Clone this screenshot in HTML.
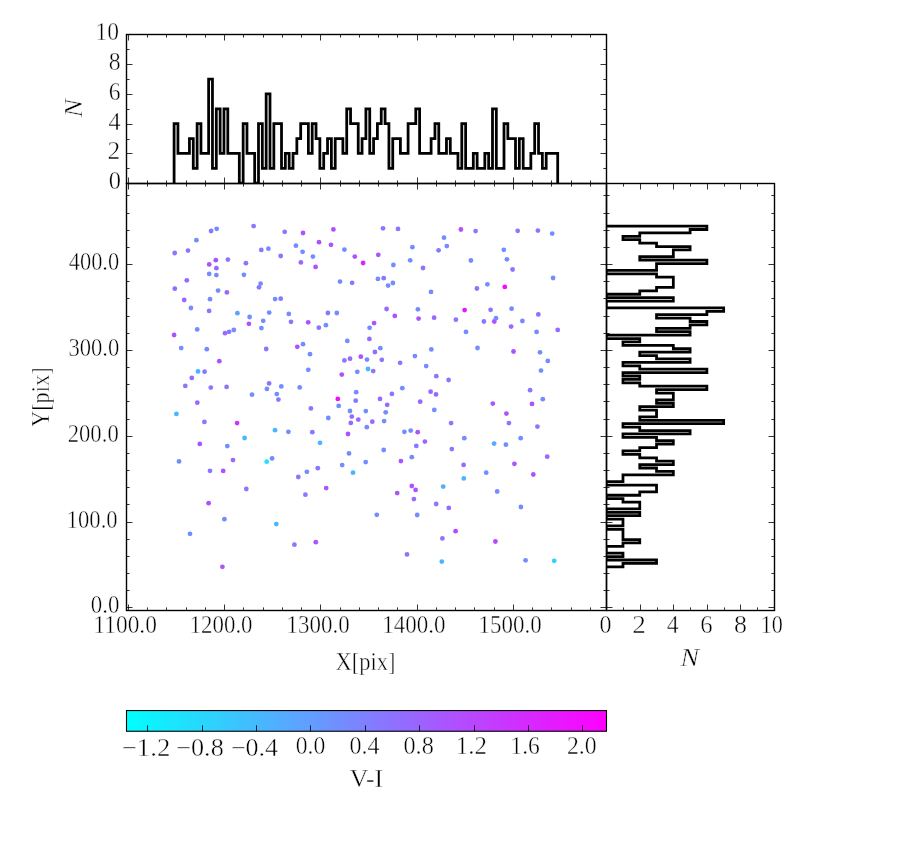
<!DOCTYPE html><html><head><meta charset="utf-8"><title>plot</title><style>html,body{margin:0;padding:0;background:#fff;}svg{display:block;}text{font-family:"Liberation Serif", "DejaVu Serif", serif;fill:#000;stroke:#fff;stroke-width:0.45px;}</style></head><body>
<svg width="900" height="850" viewBox="0 0 900 850">
<rect x="0" y="0" width="900" height="850" fill="#fff"/>
<defs><linearGradient id="cg" x1="0" y1="0" x2="1" y2="0"><stop offset="0" stop-color="#00ffff"/><stop offset="1" stop-color="#ff00ff"/></linearGradient></defs>
<g>
<circle cx="216.7" cy="228.8" r="2.4" fill="#738cff"/>
<circle cx="211.1" cy="231.0" r="2.4" fill="#8778ff"/>
<circle cx="253.6" cy="226.1" r="2.4" fill="#8778ff"/>
<circle cx="196.4" cy="240.2" r="2.4" fill="#738cff"/>
<circle cx="188.0" cy="250.6" r="2.4" fill="#8778ff"/>
<circle cx="174.7" cy="253.0" r="2.4" fill="#8778ff"/>
<circle cx="261.3" cy="249.9" r="2.4" fill="#8778ff"/>
<circle cx="215.8" cy="260.2" r="2.4" fill="#ad52ff"/>
<circle cx="227.9" cy="259.6" r="2.4" fill="#8778ff"/>
<circle cx="209.2" cy="264.4" r="2.4" fill="#ad52ff"/>
<circle cx="245.9" cy="263.2" r="2.4" fill="#8778ff"/>
<circle cx="216.4" cy="268.2" r="2.4" fill="#9669ff"/>
<circle cx="209.2" cy="273.9" r="2.4" fill="#738cff"/>
<circle cx="216.4" cy="275.1" r="2.4" fill="#738cff"/>
<circle cx="243.9" cy="274.8" r="2.4" fill="#738cff"/>
<circle cx="186.8" cy="280.3" r="2.4" fill="#9669ff"/>
<circle cx="260.6" cy="283.6" r="2.4" fill="#738cff"/>
<circle cx="259.0" cy="287.3" r="2.4" fill="#8778ff"/>
<circle cx="174.8" cy="288.7" r="2.4" fill="#9669ff"/>
<circle cx="218.1" cy="290.6" r="2.4" fill="#738cff"/>
<circle cx="226.9" cy="292.4" r="2.4" fill="#9669ff"/>
<circle cx="184.2" cy="300.0" r="2.4" fill="#9669ff"/>
<circle cx="210.0" cy="299.2" r="2.4" fill="#738cff"/>
<circle cx="190.9" cy="308.0" r="2.4" fill="#738cff"/>
<circle cx="284.7" cy="231.8" r="2.4" fill="#8778ff"/>
<circle cx="303.0" cy="233.0" r="2.4" fill="#ad52ff"/>
<circle cx="333.4" cy="229.4" r="2.4" fill="#ad52ff"/>
<circle cx="319.0" cy="242.2" r="2.4" fill="#ad52ff"/>
<circle cx="331.0" cy="244.8" r="2.4" fill="#ad52ff"/>
<circle cx="295.9" cy="245.7" r="2.4" fill="#738cff"/>
<circle cx="268.4" cy="248.7" r="2.4" fill="#738cff"/>
<circle cx="302.6" cy="251.8" r="2.4" fill="#738cff"/>
<circle cx="344.4" cy="249.6" r="2.4" fill="#738cff"/>
<circle cx="280.7" cy="256.0" r="2.4" fill="#8778ff"/>
<circle cx="312.9" cy="256.6" r="2.4" fill="#738cff"/>
<circle cx="354.8" cy="256.6" r="2.4" fill="#ad52ff"/>
<circle cx="300.9" cy="262.4" r="2.4" fill="#9669ff"/>
<circle cx="315.6" cy="266.9" r="2.4" fill="#ad52ff"/>
<circle cx="340.0" cy="281.6" r="2.4" fill="#738cff"/>
<circle cx="352.1" cy="282.8" r="2.4" fill="#8778ff"/>
<circle cx="275.1" cy="299.1" r="2.4" fill="#738cff"/>
<circle cx="280.7" cy="298.7" r="2.4" fill="#8778ff"/>
<circle cx="383.0" cy="228.3" r="2.4" fill="#8778ff"/>
<circle cx="398.0" cy="228.9" r="2.4" fill="#8778ff"/>
<circle cx="444.0" cy="237.7" r="2.4" fill="#738cff"/>
<circle cx="412.4" cy="247.2" r="2.4" fill="#738cff"/>
<circle cx="446.8" cy="246.1" r="2.4" fill="#738cff"/>
<circle cx="438.6" cy="250.3" r="2.4" fill="#8778ff"/>
<circle cx="378.3" cy="254.8" r="2.4" fill="#ad52ff"/>
<circle cx="363.1" cy="263.0" r="2.4" fill="#d926ff"/>
<circle cx="393.4" cy="265.0" r="2.4" fill="#738cff"/>
<circle cx="410.2" cy="260.3" r="2.4" fill="#738cff"/>
<circle cx="423.0" cy="268.0" r="2.4" fill="#8778ff"/>
<circle cx="377.9" cy="278.9" r="2.4" fill="#738cff"/>
<circle cx="383.7" cy="278.2" r="2.4" fill="#8778ff"/>
<circle cx="392.9" cy="283.0" r="2.4" fill="#738cff"/>
<circle cx="388.1" cy="285.6" r="2.4" fill="#738cff"/>
<circle cx="431.0" cy="291.9" r="2.4" fill="#738cff"/>
<circle cx="386.6" cy="309.0" r="2.4" fill="#9669ff"/>
<circle cx="417.9" cy="309.3" r="2.4" fill="#738cff"/>
<circle cx="460.9" cy="229.5" r="2.4" fill="#ad52ff"/>
<circle cx="475.6" cy="231.1" r="2.4" fill="#8778ff"/>
<circle cx="517.7" cy="230.8" r="2.4" fill="#8778ff"/>
<circle cx="537.9" cy="230.6" r="2.4" fill="#8778ff"/>
<circle cx="552.2" cy="233.6" r="2.4" fill="#738cff"/>
<circle cx="503.8" cy="249.8" r="2.4" fill="#738cff"/>
<circle cx="470.9" cy="260.5" r="2.4" fill="#738cff"/>
<circle cx="506.9" cy="259.3" r="2.4" fill="#738cff"/>
<circle cx="512.6" cy="269.5" r="2.4" fill="#8778ff"/>
<circle cx="553.1" cy="278.0" r="2.4" fill="#738cff"/>
<circle cx="487.4" cy="284.3" r="2.4" fill="#738cff"/>
<circle cx="476.9" cy="288.5" r="2.4" fill="#8778ff"/>
<circle cx="504.8" cy="286.9" r="2.4" fill="#f20dff"/>
<circle cx="464.6" cy="310.1" r="2.4" fill="#eb14ff"/>
<circle cx="490.6" cy="309.8" r="2.4" fill="#8778ff"/>
<circle cx="511.6" cy="308.7" r="2.4" fill="#738cff"/>
<circle cx="209.1" cy="310.9" r="2.4" fill="#8778ff"/>
<circle cx="237.4" cy="313.2" r="2.4" fill="#5ca3ff"/>
<circle cx="249.6" cy="317.0" r="2.4" fill="#738cff"/>
<circle cx="263.2" cy="320.8" r="2.4" fill="#738cff"/>
<circle cx="248.9" cy="323.8" r="2.4" fill="#ad52ff"/>
<circle cx="261.4" cy="328.1" r="2.4" fill="#738cff"/>
<circle cx="197.2" cy="329.4" r="2.4" fill="#738cff"/>
<circle cx="174.1" cy="335.0" r="2.4" fill="#ad52ff"/>
<circle cx="225.0" cy="333.2" r="2.4" fill="#9669ff"/>
<circle cx="229.1" cy="331.8" r="2.4" fill="#8778ff"/>
<circle cx="233.8" cy="330.0" r="2.4" fill="#738cff"/>
<circle cx="181.2" cy="348.1" r="2.4" fill="#738cff"/>
<circle cx="206.8" cy="349.2" r="2.4" fill="#738cff"/>
<circle cx="219.3" cy="361.2" r="2.4" fill="#ad52ff"/>
<circle cx="198.0" cy="371.4" r="2.4" fill="#4ab5ff"/>
<circle cx="204.6" cy="371.7" r="2.4" fill="#8778ff"/>
<circle cx="191.8" cy="377.9" r="2.4" fill="#9669ff"/>
<circle cx="185.3" cy="385.9" r="2.4" fill="#8778ff"/>
<circle cx="210.8" cy="387.6" r="2.4" fill="#8778ff"/>
<circle cx="226.6" cy="386.9" r="2.4" fill="#8778ff"/>
<circle cx="252.0" cy="394.7" r="2.4" fill="#738cff"/>
<circle cx="269.2" cy="312.6" r="2.4" fill="#738cff"/>
<circle cx="288.8" cy="313.9" r="2.4" fill="#738cff"/>
<circle cx="327.9" cy="313.0" r="2.4" fill="#8778ff"/>
<circle cx="336.8" cy="313.0" r="2.4" fill="#738cff"/>
<circle cx="291.0" cy="321.8" r="2.4" fill="#8778ff"/>
<circle cx="308.2" cy="322.3" r="2.4" fill="#ad52ff"/>
<circle cx="318.8" cy="327.7" r="2.4" fill="#8778ff"/>
<circle cx="325.9" cy="325.2" r="2.4" fill="#738cff"/>
<circle cx="347.3" cy="340.9" r="2.4" fill="#738cff"/>
<circle cx="303.0" cy="344.2" r="2.4" fill="#738cff"/>
<circle cx="297.3" cy="346.8" r="2.4" fill="#ad52ff"/>
<circle cx="266.2" cy="349.0" r="2.4" fill="#8778ff"/>
<circle cx="310.0" cy="354.2" r="2.4" fill="#738cff"/>
<circle cx="344.4" cy="360.4" r="2.4" fill="#8778ff"/>
<circle cx="350.0" cy="358.7" r="2.4" fill="#9669ff"/>
<circle cx="360.8" cy="356.7" r="2.4" fill="#ad52ff"/>
<circle cx="308.3" cy="369.8" r="2.4" fill="#738cff"/>
<circle cx="341.8" cy="374.6" r="2.4" fill="#ad52ff"/>
<circle cx="357.3" cy="371.8" r="2.4" fill="#738cff"/>
<circle cx="269.1" cy="383.4" r="2.4" fill="#8778ff"/>
<circle cx="266.9" cy="388.9" r="2.4" fill="#738cff"/>
<circle cx="281.3" cy="386.4" r="2.4" fill="#738cff"/>
<circle cx="299.7" cy="387.4" r="2.4" fill="#738cff"/>
<circle cx="276.8" cy="394.1" r="2.4" fill="#738cff"/>
<circle cx="356.2" cy="392.2" r="2.4" fill="#738cff"/>
<circle cx="394.8" cy="315.9" r="2.4" fill="#ad52ff"/>
<circle cx="418.6" cy="318.6" r="2.4" fill="#ad52ff"/>
<circle cx="434.1" cy="317.7" r="2.4" fill="#9669ff"/>
<circle cx="455.9" cy="319.7" r="2.4" fill="#8778ff"/>
<circle cx="374.1" cy="323.1" r="2.4" fill="#ad52ff"/>
<circle cx="369.6" cy="327.8" r="2.4" fill="#738cff"/>
<circle cx="369.4" cy="338.9" r="2.4" fill="#9669ff"/>
<circle cx="380.3" cy="348.2" r="2.4" fill="#738cff"/>
<circle cx="374.9" cy="352.0" r="2.4" fill="#9669ff"/>
<circle cx="367.0" cy="359.6" r="2.4" fill="#738cff"/>
<circle cx="381.8" cy="359.8" r="2.4" fill="#8778ff"/>
<circle cx="400.1" cy="362.8" r="2.4" fill="#8778ff"/>
<circle cx="414.9" cy="356.1" r="2.4" fill="#738cff"/>
<circle cx="431.3" cy="349.4" r="2.4" fill="#738cff"/>
<circle cx="426.2" cy="366.1" r="2.4" fill="#738cff"/>
<circle cx="368.0" cy="369.0" r="2.4" fill="#4ab5ff"/>
<circle cx="373.2" cy="371.1" r="2.4" fill="#8778ff"/>
<circle cx="436.3" cy="376.2" r="2.4" fill="#8778ff"/>
<circle cx="448.6" cy="380.0" r="2.4" fill="#8778ff"/>
<circle cx="402.3" cy="388.2" r="2.4" fill="#738cff"/>
<circle cx="391.9" cy="393.9" r="2.4" fill="#8778ff"/>
<circle cx="430.6" cy="391.7" r="2.4" fill="#9669ff"/>
<circle cx="436.0" cy="394.4" r="2.4" fill="#9669ff"/>
<circle cx="538.3" cy="314.4" r="2.4" fill="#9669ff"/>
<circle cx="483.9" cy="321.5" r="2.4" fill="#8778ff"/>
<circle cx="494.3" cy="321.5" r="2.4" fill="#ad52ff"/>
<circle cx="496.0" cy="318.2" r="2.4" fill="#738cff"/>
<circle cx="511.1" cy="326.6" r="2.4" fill="#9669ff"/>
<circle cx="522.4" cy="321.0" r="2.4" fill="#738cff"/>
<circle cx="466.0" cy="331.9" r="2.4" fill="#738cff"/>
<circle cx="536.6" cy="331.9" r="2.4" fill="#738cff"/>
<circle cx="557.7" cy="329.9" r="2.4" fill="#9669ff"/>
<circle cx="477.5" cy="348.0" r="2.4" fill="#738cff"/>
<circle cx="513.5" cy="351.5" r="2.4" fill="#ad52ff"/>
<circle cx="540.0" cy="352.3" r="2.4" fill="#738cff"/>
<circle cx="547.8" cy="360.9" r="2.4" fill="#738cff"/>
<circle cx="541.0" cy="370.6" r="2.4" fill="#738cff"/>
<circle cx="530.1" cy="390.2" r="2.4" fill="#8778ff"/>
<circle cx="197.3" cy="402.7" r="2.4" fill="#9669ff"/>
<circle cx="176.4" cy="413.9" r="2.4" fill="#4ab5ff"/>
<circle cx="204.4" cy="421.9" r="2.4" fill="#8778ff"/>
<circle cx="237.1" cy="423.1" r="2.4" fill="#cc33ff"/>
<circle cx="244.6" cy="438.0" r="2.4" fill="#4ab5ff"/>
<circle cx="199.8" cy="443.9" r="2.4" fill="#ad52ff"/>
<circle cx="227.3" cy="446.1" r="2.4" fill="#738cff"/>
<circle cx="179.0" cy="461.4" r="2.4" fill="#738cff"/>
<circle cx="233.0" cy="460.1" r="2.4" fill="#9669ff"/>
<circle cx="210.0" cy="470.8" r="2.4" fill="#8778ff"/>
<circle cx="223.2" cy="470.9" r="2.4" fill="#ad52ff"/>
<circle cx="278.4" cy="399.6" r="2.4" fill="#8778ff"/>
<circle cx="337.8" cy="398.9" r="2.4" fill="#f20dff"/>
<circle cx="355.7" cy="400.7" r="2.4" fill="#8778ff"/>
<circle cx="310.9" cy="408.4" r="2.4" fill="#8778ff"/>
<circle cx="338.7" cy="405.9" r="2.4" fill="#738cff"/>
<circle cx="350.0" cy="411.0" r="2.4" fill="#738cff"/>
<circle cx="351.8" cy="416.6" r="2.4" fill="#9669ff"/>
<circle cx="358.3" cy="419.6" r="2.4" fill="#9669ff"/>
<circle cx="328.3" cy="418.0" r="2.4" fill="#738cff"/>
<circle cx="350.8" cy="422.9" r="2.4" fill="#9669ff"/>
<circle cx="275.0" cy="430.2" r="2.4" fill="#4ab5ff"/>
<circle cx="288.4" cy="431.8" r="2.4" fill="#738cff"/>
<circle cx="312.3" cy="432.2" r="2.4" fill="#8778ff"/>
<circle cx="348.0" cy="434.0" r="2.4" fill="#ad52ff"/>
<circle cx="320.0" cy="442.8" r="2.4" fill="#4ab5ff"/>
<circle cx="349.0" cy="453.4" r="2.4" fill="#738cff"/>
<circle cx="272.1" cy="458.4" r="2.4" fill="#738cff"/>
<circle cx="266.7" cy="461.7" r="2.4" fill="#1ae6ff"/>
<circle cx="342.2" cy="465.1" r="2.4" fill="#738cff"/>
<circle cx="353.0" cy="472.7" r="2.4" fill="#4ab5ff"/>
<circle cx="317.8" cy="468.2" r="2.4" fill="#8778ff"/>
<circle cx="306.9" cy="471.8" r="2.4" fill="#738cff"/>
<circle cx="298.3" cy="477.0" r="2.4" fill="#8778ff"/>
<circle cx="380.0" cy="398.9" r="2.4" fill="#9669ff"/>
<circle cx="387.2" cy="404.8" r="2.4" fill="#9669ff"/>
<circle cx="420.2" cy="401.7" r="2.4" fill="#9669ff"/>
<circle cx="365.8" cy="411.1" r="2.4" fill="#738cff"/>
<circle cx="385.7" cy="412.3" r="2.4" fill="#738cff"/>
<circle cx="434.3" cy="409.9" r="2.4" fill="#738cff"/>
<circle cx="372.3" cy="421.7" r="2.4" fill="#9669ff"/>
<circle cx="384.1" cy="421.1" r="2.4" fill="#738cff"/>
<circle cx="366.8" cy="427.2" r="2.4" fill="#738cff"/>
<circle cx="451.1" cy="423.1" r="2.4" fill="#8778ff"/>
<circle cx="404.4" cy="431.8" r="2.4" fill="#738cff"/>
<circle cx="410.7" cy="430.6" r="2.4" fill="#738cff"/>
<circle cx="417.7" cy="432.2" r="2.4" fill="#ad52ff"/>
<circle cx="424.9" cy="441.6" r="2.4" fill="#9669ff"/>
<circle cx="416.3" cy="445.9" r="2.4" fill="#8778ff"/>
<circle cx="383.7" cy="450.0" r="2.4" fill="#738cff"/>
<circle cx="451.8" cy="449.1" r="2.4" fill="#8778ff"/>
<circle cx="411.8" cy="457.2" r="2.4" fill="#738cff"/>
<circle cx="400.9" cy="461.1" r="2.4" fill="#ad52ff"/>
<circle cx="365.7" cy="462.1" r="2.4" fill="#738cff"/>
<circle cx="542.8" cy="399.2" r="2.4" fill="#738cff"/>
<circle cx="492.8" cy="403.6" r="2.4" fill="#ad52ff"/>
<circle cx="532.0" cy="403.9" r="2.4" fill="#ad52ff"/>
<circle cx="506.4" cy="413.6" r="2.4" fill="#ad52ff"/>
<circle cx="508.9" cy="423.1" r="2.4" fill="#8778ff"/>
<circle cx="537.4" cy="426.6" r="2.4" fill="#8778ff"/>
<circle cx="464.3" cy="438.2" r="2.4" fill="#738cff"/>
<circle cx="520.7" cy="438.2" r="2.4" fill="#738cff"/>
<circle cx="494.1" cy="443.6" r="2.4" fill="#54abff"/>
<circle cx="505.9" cy="444.7" r="2.4" fill="#738cff"/>
<circle cx="547.2" cy="456.7" r="2.4" fill="#9669ff"/>
<circle cx="463.6" cy="464.9" r="2.4" fill="#9669ff"/>
<circle cx="514.4" cy="463.8" r="2.4" fill="#ad52ff"/>
<circle cx="486.2" cy="472.7" r="2.4" fill="#738cff"/>
<circle cx="533.3" cy="474.5" r="2.4" fill="#ad52ff"/>
<circle cx="463.8" cy="478.4" r="2.4" fill="#4ab5ff"/>
<circle cx="246.3" cy="489.0" r="2.4" fill="#8778ff"/>
<circle cx="208.6" cy="503.2" r="2.4" fill="#ad52ff"/>
<circle cx="224.4" cy="519.2" r="2.4" fill="#738cff"/>
<circle cx="190.0" cy="533.8" r="2.4" fill="#738cff"/>
<circle cx="222.4" cy="566.8" r="2.4" fill="#ad52ff"/>
<circle cx="326.2" cy="488.1" r="2.4" fill="#ad52ff"/>
<circle cx="305.4" cy="494.7" r="2.4" fill="#8778ff"/>
<circle cx="276.3" cy="524.1" r="2.4" fill="#4ab5ff"/>
<circle cx="294.4" cy="544.7" r="2.4" fill="#8778ff"/>
<circle cx="315.8" cy="542.2" r="2.4" fill="#ad52ff"/>
<circle cx="411.8" cy="486.0" r="2.4" fill="#ad52ff"/>
<circle cx="415.6" cy="489.9" r="2.4" fill="#ad52ff"/>
<circle cx="397.2" cy="493.1" r="2.4" fill="#ad52ff"/>
<circle cx="443.2" cy="486.6" r="2.4" fill="#54abff"/>
<circle cx="413.9" cy="499.1" r="2.4" fill="#9669ff"/>
<circle cx="436.2" cy="504.0" r="2.4" fill="#8778ff"/>
<circle cx="448.8" cy="507.9" r="2.4" fill="#9669ff"/>
<circle cx="376.8" cy="514.8" r="2.4" fill="#738cff"/>
<circle cx="417.2" cy="515.0" r="2.4" fill="#738cff"/>
<circle cx="455.6" cy="531.2" r="2.4" fill="#b847ff"/>
<circle cx="442.4" cy="538.4" r="2.4" fill="#8778ff"/>
<circle cx="407.0" cy="554.4" r="2.4" fill="#8778ff"/>
<circle cx="441.8" cy="561.6" r="2.4" fill="#4ab5ff"/>
<circle cx="497.2" cy="491.5" r="2.4" fill="#738cff"/>
<circle cx="520.9" cy="507.0" r="2.4" fill="#738cff"/>
<circle cx="495.4" cy="541.5" r="2.4" fill="#b847ff"/>
<circle cx="525.6" cy="560.3" r="2.4" fill="#738cff"/>
<circle cx="554.2" cy="560.8" r="2.4" fill="#2ed1ff"/>
</g>
<clipPath id="ct"><rect x="126.5" y="34.5" width="480.0" height="149.0"/></clipPath>
<clipPath id="cr"><rect x="606.5" y="183.5" width="168.0" height="427.0"/></clipPath>
<path d="M174.10,183.20 L174.10,123.68 L177.94,123.68 L177.94,153.44 L181.77,153.44 L181.77,153.44 L185.61,153.44 L185.61,153.44 L189.44,153.44 L189.44,138.56 L193.28,138.56 L193.28,168.32 L197.12,168.32 L197.12,123.68 L200.95,123.68 L200.95,153.44 L204.79,153.44 L204.79,153.44 L208.62,153.44 L208.62,79.04 L212.46,79.04 L212.46,168.32 L216.30,168.32 L216.30,108.80 L220.13,108.80 L220.13,153.44 L223.97,153.44 L223.97,108.80 L227.80,108.80 L227.80,153.44 L231.64,153.44 L231.64,153.44 L235.48,153.44 L235.48,153.44 L239.31,153.44 L239.31,183.20 L243.15,183.20 L243.15,123.68 L246.98,123.68 L246.98,153.44 L250.82,153.44 L250.82,153.44 L254.66,153.44 L254.66,183.20 L258.49,183.20 L258.49,123.68 L262.33,123.68 L262.33,168.32 L266.16,168.32 L266.16,93.92 L270.00,93.92 L270.00,168.32 L273.84,168.32 L273.84,123.68 L277.67,123.68 L277.67,123.68 L281.51,123.68 L281.51,168.32 L285.34,168.32 L285.34,153.44 L289.18,153.44 L289.18,168.32 L293.02,168.32 L293.02,153.44 L296.85,153.44 L296.85,138.56 L300.69,138.56 L300.69,123.68 L304.52,123.68 L304.52,123.68 L308.36,123.68 L308.36,153.44 L312.20,153.44 L312.20,123.68 L316.03,123.68 L316.03,138.56 L319.87,138.56 L319.87,168.32 L323.70,168.32 L323.70,153.44 L327.54,153.44 L327.54,138.56 L331.38,138.56 L331.38,168.32 L335.21,168.32 L335.21,138.56 L339.05,138.56 L339.05,138.56 L342.88,138.56 L342.88,153.44 L346.72,153.44 L346.72,108.80 L350.56,108.80 L350.56,123.68 L354.39,123.68 L354.39,123.68 L358.23,123.68 L358.23,153.44 L362.06,153.44 L362.06,138.56 L365.90,138.56 L365.90,108.80 L369.74,108.80 L369.74,153.44 L373.57,153.44 L373.57,138.56 L377.41,138.56 L377.41,123.68 L381.24,123.68 L381.24,108.80 L385.08,108.80 L385.08,123.68 L388.92,123.68 L388.92,168.32 L392.75,168.32 L392.75,138.56 L396.59,138.56 L396.59,138.56 L400.42,138.56 L400.42,153.44 L404.26,153.44 L404.26,153.44 L408.10,153.44 L408.10,123.68 L411.93,123.68 L411.93,123.68 L415.77,123.68 L415.77,108.80 L419.60,108.80 L419.60,153.44 L423.44,153.44 L423.44,153.44 L427.28,153.44 L427.28,153.44 L431.11,153.44 L431.11,138.56 L434.95,138.56 L434.95,123.68 L438.78,123.68 L438.78,153.44 L442.62,153.44 L442.62,153.44 L446.46,153.44 L446.46,138.56 L450.29,138.56 L450.29,153.44 L454.13,153.44 L454.13,153.44 L457.96,153.44 L457.96,168.32 L461.80,168.32 L461.80,123.68 L465.64,123.68 L465.64,168.32 L469.47,168.32 L469.47,168.32 L473.31,168.32 L473.31,153.44 L477.14,153.44 L477.14,168.32 L480.98,168.32 L480.98,168.32 L484.82,168.32 L484.82,153.44 L488.65,153.44 L488.65,168.32 L492.49,168.32 L492.49,108.80 L496.32,108.80 L496.32,168.32 L500.16,168.32 L500.16,168.32 L504.00,168.32 L504.00,123.68 L507.83,123.68 L507.83,138.56 L511.67,138.56 L511.67,138.56 L515.50,138.56 L515.50,168.32 L519.34,168.32 L519.34,138.56 L523.18,138.56 L523.18,168.32 L527.01,168.32 L527.01,168.32 L530.85,168.32 L530.85,153.44 L534.68,153.44 L534.68,123.68 L538.52,123.68 L538.52,153.44 L542.36,153.44 L542.36,168.32 L546.19,168.32 L546.19,153.44 L550.03,153.44 L550.03,153.44 L553.86,153.44 L553.86,153.44 L557.70,153.44 L557.70,183.20" fill="none" stroke="#000" stroke-width="2.78" stroke-linejoin="miter" clip-path="url(#ct)"/>
<path d="M606.20,226.10 L706.88,226.10 L706.88,229.51 L690.10,229.51 L690.10,232.91 L639.76,232.91 L639.76,236.32 L622.98,236.32 L622.98,239.73 L639.76,239.73 L639.76,243.13 L656.54,243.13 L656.54,246.54 L690.10,246.54 L690.10,249.95 L673.32,249.95 L673.32,253.36 L673.32,253.36 L673.32,256.76 L639.76,256.76 L639.76,260.17 L706.88,260.17 L706.88,263.58 L656.54,263.58 L656.54,266.98 L656.54,266.98 L656.54,270.39 L606.20,270.39 L606.20,273.80 L656.54,273.80 L656.54,277.20 L673.32,277.20 L673.32,280.61 L673.32,280.61 L673.32,284.02 L673.32,284.02 L673.32,287.43 L656.54,287.43 L656.54,290.83 L639.76,290.83 L639.76,294.24 L606.20,294.24 L606.20,297.65 L673.32,297.65 L673.32,301.05 L606.20,301.05 L606.20,304.46 L606.20,304.46 L606.20,307.87 L723.66,307.87 L723.66,311.27 L706.88,311.27 L706.88,314.68 L656.54,314.68 L656.54,318.09 L690.10,318.09 L690.10,321.50 L706.88,321.50 L706.88,324.90 L690.10,324.90 L690.10,328.31 L656.54,328.31 L656.54,331.72 L690.10,331.72 L690.10,335.12 L606.20,335.12 L606.20,338.53 L639.76,338.53 L639.76,341.94 L622.98,341.94 L622.98,345.34 L673.32,345.34 L673.32,348.75 L690.10,348.75 L690.10,352.16 L639.76,352.16 L639.76,355.57 L656.54,355.57 L656.54,358.97 L690.10,358.97 L690.10,362.38 L622.98,362.38 L622.98,365.79 L639.76,365.79 L639.76,369.19 L706.88,369.19 L706.88,372.60 L622.98,372.60 L622.98,376.01 L639.76,376.01 L639.76,379.41 L622.98,379.41 L622.98,382.82 L639.76,382.82 L639.76,386.23 L706.88,386.23 L706.88,389.64 L656.54,389.64 L656.54,393.04 L673.32,393.04 L673.32,396.45 L673.32,396.45 L673.32,399.86 L656.54,399.86 L656.54,403.26 L673.32,403.26 L673.32,406.67 L639.76,406.67 L639.76,410.08 L656.54,410.08 L656.54,413.48 L656.54,413.48 L656.54,416.89 L639.76,416.89 L639.76,420.30 L723.66,420.30 L723.66,423.71 L622.98,423.71 L622.98,427.11 L639.76,427.11 L639.76,430.52 L690.10,430.52 L690.10,433.93 L622.98,433.93 L622.98,437.33 L656.54,437.33 L656.54,440.74 L673.32,440.74 L673.32,444.15 L656.54,444.15 L656.54,447.55 L639.76,447.55 L639.76,450.96 L622.98,450.96 L622.98,454.37 L639.76,454.37 L639.76,457.78 L656.54,457.78 L656.54,461.18 L673.32,461.18 L673.32,464.59 L639.76,464.59 L639.76,468.00 L656.54,468.00 L656.54,471.40 L673.32,471.40 L673.32,474.81 L622.98,474.81 L622.98,478.22 L622.98,478.22 L622.98,481.62 L606.20,481.62 L606.20,485.03 L656.54,485.03 L656.54,488.44 L656.54,488.44 L656.54,491.85 L639.76,491.85 L639.76,495.25 L606.20,495.25 L606.20,498.66 L622.98,498.66 L622.98,502.07 L639.76,502.07 L639.76,505.47 L639.76,505.47 L639.76,508.88 L606.20,508.88 L606.20,512.29 L639.76,512.29 L639.76,515.69 L606.20,515.69 L606.20,519.10 L622.98,519.10 L622.98,522.51 L622.98,522.51 L622.98,525.92 L606.20,525.92 L606.20,529.32 L622.98,529.32 L622.98,532.73 L622.98,532.73 L622.98,536.14 L622.98,536.14 L622.98,539.54 L639.76,539.54 L639.76,542.95 L622.98,542.95 L622.98,546.36 L606.20,546.36 L606.20,549.76 L606.20,549.76 L606.20,553.17 L622.98,553.17 L622.98,556.58 L606.20,556.58 L606.20,559.99 L656.54,559.99 L656.54,563.39 L622.98,563.39 L622.98,566.80 L606.20,566.80" fill="none" stroke="#000" stroke-width="2.78" stroke-linejoin="miter" clip-path="url(#cr)"/>
<g><line x1="128.50" y1="610.50" x2="128.50" y2="604.50" stroke="#000" stroke-width="0.8"/><line x1="128.50" y1="183.50" x2="128.50" y2="189.50" stroke="#000" stroke-width="0.8"/><line x1="128.50" y1="183.50" x2="128.50" y2="177.50" stroke="#000" stroke-width="0.8"/><line x1="128.50" y1="34.50" x2="128.50" y2="40.50" stroke="#000" stroke-width="0.8"/><line x1="224.50" y1="610.50" x2="224.50" y2="604.50" stroke="#000" stroke-width="0.8"/><line x1="224.50" y1="183.50" x2="224.50" y2="189.50" stroke="#000" stroke-width="0.8"/><line x1="224.50" y1="183.50" x2="224.50" y2="177.50" stroke="#000" stroke-width="0.8"/><line x1="224.50" y1="34.50" x2="224.50" y2="40.50" stroke="#000" stroke-width="0.8"/><line x1="320.50" y1="610.50" x2="320.50" y2="604.50" stroke="#000" stroke-width="0.8"/><line x1="320.50" y1="183.50" x2="320.50" y2="189.50" stroke="#000" stroke-width="0.8"/><line x1="320.50" y1="183.50" x2="320.50" y2="177.50" stroke="#000" stroke-width="0.8"/><line x1="320.50" y1="34.50" x2="320.50" y2="40.50" stroke="#000" stroke-width="0.8"/><line x1="417.50" y1="610.50" x2="417.50" y2="604.50" stroke="#000" stroke-width="0.8"/><line x1="417.50" y1="183.50" x2="417.50" y2="189.50" stroke="#000" stroke-width="0.8"/><line x1="417.50" y1="183.50" x2="417.50" y2="177.50" stroke="#000" stroke-width="0.8"/><line x1="417.50" y1="34.50" x2="417.50" y2="40.50" stroke="#000" stroke-width="0.8"/><line x1="513.50" y1="610.50" x2="513.50" y2="604.50" stroke="#000" stroke-width="0.8"/><line x1="513.50" y1="183.50" x2="513.50" y2="189.50" stroke="#000" stroke-width="0.8"/><line x1="513.50" y1="183.50" x2="513.50" y2="177.50" stroke="#000" stroke-width="0.8"/><line x1="513.50" y1="34.50" x2="513.50" y2="40.50" stroke="#000" stroke-width="0.8"/><line x1="147.50" y1="610.50" x2="147.50" y2="607.40" stroke="#000" stroke-width="0.8"/><line x1="147.50" y1="183.50" x2="147.50" y2="186.60" stroke="#000" stroke-width="0.8"/><line x1="147.50" y1="183.50" x2="147.50" y2="180.40" stroke="#000" stroke-width="0.8"/><line x1="147.50" y1="34.50" x2="147.50" y2="37.60" stroke="#000" stroke-width="0.8"/><line x1="166.50" y1="610.50" x2="166.50" y2="607.40" stroke="#000" stroke-width="0.8"/><line x1="166.50" y1="183.50" x2="166.50" y2="186.60" stroke="#000" stroke-width="0.8"/><line x1="166.50" y1="183.50" x2="166.50" y2="180.40" stroke="#000" stroke-width="0.8"/><line x1="166.50" y1="34.50" x2="166.50" y2="37.60" stroke="#000" stroke-width="0.8"/><line x1="186.50" y1="610.50" x2="186.50" y2="607.40" stroke="#000" stroke-width="0.8"/><line x1="186.50" y1="183.50" x2="186.50" y2="186.60" stroke="#000" stroke-width="0.8"/><line x1="186.50" y1="183.50" x2="186.50" y2="180.40" stroke="#000" stroke-width="0.8"/><line x1="186.50" y1="34.50" x2="186.50" y2="37.60" stroke="#000" stroke-width="0.8"/><line x1="205.50" y1="610.50" x2="205.50" y2="607.40" stroke="#000" stroke-width="0.8"/><line x1="205.50" y1="183.50" x2="205.50" y2="186.60" stroke="#000" stroke-width="0.8"/><line x1="205.50" y1="183.50" x2="205.50" y2="180.40" stroke="#000" stroke-width="0.8"/><line x1="205.50" y1="34.50" x2="205.50" y2="37.60" stroke="#000" stroke-width="0.8"/><line x1="243.50" y1="610.50" x2="243.50" y2="607.40" stroke="#000" stroke-width="0.8"/><line x1="243.50" y1="183.50" x2="243.50" y2="186.60" stroke="#000" stroke-width="0.8"/><line x1="243.50" y1="183.50" x2="243.50" y2="180.40" stroke="#000" stroke-width="0.8"/><line x1="243.50" y1="34.50" x2="243.50" y2="37.60" stroke="#000" stroke-width="0.8"/><line x1="263.50" y1="610.50" x2="263.50" y2="607.40" stroke="#000" stroke-width="0.8"/><line x1="263.50" y1="183.50" x2="263.50" y2="186.60" stroke="#000" stroke-width="0.8"/><line x1="263.50" y1="183.50" x2="263.50" y2="180.40" stroke="#000" stroke-width="0.8"/><line x1="263.50" y1="34.50" x2="263.50" y2="37.60" stroke="#000" stroke-width="0.8"/><line x1="282.50" y1="610.50" x2="282.50" y2="607.40" stroke="#000" stroke-width="0.8"/><line x1="282.50" y1="183.50" x2="282.50" y2="186.60" stroke="#000" stroke-width="0.8"/><line x1="282.50" y1="183.50" x2="282.50" y2="180.40" stroke="#000" stroke-width="0.8"/><line x1="282.50" y1="34.50" x2="282.50" y2="37.60" stroke="#000" stroke-width="0.8"/><line x1="301.50" y1="610.50" x2="301.50" y2="607.40" stroke="#000" stroke-width="0.8"/><line x1="301.50" y1="183.50" x2="301.50" y2="186.60" stroke="#000" stroke-width="0.8"/><line x1="301.50" y1="183.50" x2="301.50" y2="180.40" stroke="#000" stroke-width="0.8"/><line x1="301.50" y1="34.50" x2="301.50" y2="37.60" stroke="#000" stroke-width="0.8"/><line x1="340.50" y1="610.50" x2="340.50" y2="607.40" stroke="#000" stroke-width="0.8"/><line x1="340.50" y1="183.50" x2="340.50" y2="186.60" stroke="#000" stroke-width="0.8"/><line x1="340.50" y1="183.50" x2="340.50" y2="180.40" stroke="#000" stroke-width="0.8"/><line x1="340.50" y1="34.50" x2="340.50" y2="37.60" stroke="#000" stroke-width="0.8"/><line x1="359.50" y1="610.50" x2="359.50" y2="607.40" stroke="#000" stroke-width="0.8"/><line x1="359.50" y1="183.50" x2="359.50" y2="186.60" stroke="#000" stroke-width="0.8"/><line x1="359.50" y1="183.50" x2="359.50" y2="180.40" stroke="#000" stroke-width="0.8"/><line x1="359.50" y1="34.50" x2="359.50" y2="37.60" stroke="#000" stroke-width="0.8"/><line x1="378.50" y1="610.50" x2="378.50" y2="607.40" stroke="#000" stroke-width="0.8"/><line x1="378.50" y1="183.50" x2="378.50" y2="186.60" stroke="#000" stroke-width="0.8"/><line x1="378.50" y1="183.50" x2="378.50" y2="180.40" stroke="#000" stroke-width="0.8"/><line x1="378.50" y1="34.50" x2="378.50" y2="37.60" stroke="#000" stroke-width="0.8"/><line x1="397.50" y1="610.50" x2="397.50" y2="607.40" stroke="#000" stroke-width="0.8"/><line x1="397.50" y1="183.50" x2="397.50" y2="186.60" stroke="#000" stroke-width="0.8"/><line x1="397.50" y1="183.50" x2="397.50" y2="180.40" stroke="#000" stroke-width="0.8"/><line x1="397.50" y1="34.50" x2="397.50" y2="37.60" stroke="#000" stroke-width="0.8"/><line x1="436.50" y1="610.50" x2="436.50" y2="607.40" stroke="#000" stroke-width="0.8"/><line x1="436.50" y1="183.50" x2="436.50" y2="186.60" stroke="#000" stroke-width="0.8"/><line x1="436.50" y1="183.50" x2="436.50" y2="180.40" stroke="#000" stroke-width="0.8"/><line x1="436.50" y1="34.50" x2="436.50" y2="37.60" stroke="#000" stroke-width="0.8"/><line x1="455.50" y1="610.50" x2="455.50" y2="607.40" stroke="#000" stroke-width="0.8"/><line x1="455.50" y1="183.50" x2="455.50" y2="186.60" stroke="#000" stroke-width="0.8"/><line x1="455.50" y1="183.50" x2="455.50" y2="180.40" stroke="#000" stroke-width="0.8"/><line x1="455.50" y1="34.50" x2="455.50" y2="37.60" stroke="#000" stroke-width="0.8"/><line x1="474.50" y1="610.50" x2="474.50" y2="607.40" stroke="#000" stroke-width="0.8"/><line x1="474.50" y1="183.50" x2="474.50" y2="186.60" stroke="#000" stroke-width="0.8"/><line x1="474.50" y1="183.50" x2="474.50" y2="180.40" stroke="#000" stroke-width="0.8"/><line x1="474.50" y1="34.50" x2="474.50" y2="37.60" stroke="#000" stroke-width="0.8"/><line x1="494.50" y1="610.50" x2="494.50" y2="607.40" stroke="#000" stroke-width="0.8"/><line x1="494.50" y1="183.50" x2="494.50" y2="186.60" stroke="#000" stroke-width="0.8"/><line x1="494.50" y1="183.50" x2="494.50" y2="180.40" stroke="#000" stroke-width="0.8"/><line x1="494.50" y1="34.50" x2="494.50" y2="37.60" stroke="#000" stroke-width="0.8"/><line x1="532.50" y1="610.50" x2="532.50" y2="607.40" stroke="#000" stroke-width="0.8"/><line x1="532.50" y1="183.50" x2="532.50" y2="186.60" stroke="#000" stroke-width="0.8"/><line x1="532.50" y1="183.50" x2="532.50" y2="180.40" stroke="#000" stroke-width="0.8"/><line x1="532.50" y1="34.50" x2="532.50" y2="37.60" stroke="#000" stroke-width="0.8"/><line x1="551.50" y1="610.50" x2="551.50" y2="607.40" stroke="#000" stroke-width="0.8"/><line x1="551.50" y1="183.50" x2="551.50" y2="186.60" stroke="#000" stroke-width="0.8"/><line x1="551.50" y1="183.50" x2="551.50" y2="180.40" stroke="#000" stroke-width="0.8"/><line x1="551.50" y1="34.50" x2="551.50" y2="37.60" stroke="#000" stroke-width="0.8"/><line x1="571.50" y1="610.50" x2="571.50" y2="607.40" stroke="#000" stroke-width="0.8"/><line x1="571.50" y1="183.50" x2="571.50" y2="186.60" stroke="#000" stroke-width="0.8"/><line x1="571.50" y1="183.50" x2="571.50" y2="180.40" stroke="#000" stroke-width="0.8"/><line x1="571.50" y1="34.50" x2="571.50" y2="37.60" stroke="#000" stroke-width="0.8"/><line x1="590.50" y1="610.50" x2="590.50" y2="607.40" stroke="#000" stroke-width="0.8"/><line x1="590.50" y1="183.50" x2="590.50" y2="186.60" stroke="#000" stroke-width="0.8"/><line x1="590.50" y1="183.50" x2="590.50" y2="180.40" stroke="#000" stroke-width="0.8"/><line x1="590.50" y1="34.50" x2="590.50" y2="37.60" stroke="#000" stroke-width="0.8"/><line x1="126.50" y1="607.50" x2="132.50" y2="607.50" stroke="#000" stroke-width="0.8"/><line x1="606.50" y1="607.50" x2="600.50" y2="607.50" stroke="#000" stroke-width="0.8"/><line x1="606.50" y1="607.50" x2="612.50" y2="607.50" stroke="#000" stroke-width="0.8"/><line x1="774.50" y1="607.50" x2="768.50" y2="607.50" stroke="#000" stroke-width="0.8"/><line x1="126.50" y1="522.50" x2="132.50" y2="522.50" stroke="#000" stroke-width="0.8"/><line x1="606.50" y1="522.50" x2="600.50" y2="522.50" stroke="#000" stroke-width="0.8"/><line x1="606.50" y1="522.50" x2="612.50" y2="522.50" stroke="#000" stroke-width="0.8"/><line x1="774.50" y1="522.50" x2="768.50" y2="522.50" stroke="#000" stroke-width="0.8"/><line x1="126.50" y1="436.50" x2="132.50" y2="436.50" stroke="#000" stroke-width="0.8"/><line x1="606.50" y1="436.50" x2="600.50" y2="436.50" stroke="#000" stroke-width="0.8"/><line x1="606.50" y1="436.50" x2="612.50" y2="436.50" stroke="#000" stroke-width="0.8"/><line x1="774.50" y1="436.50" x2="768.50" y2="436.50" stroke="#000" stroke-width="0.8"/><line x1="126.50" y1="350.50" x2="132.50" y2="350.50" stroke="#000" stroke-width="0.8"/><line x1="606.50" y1="350.50" x2="600.50" y2="350.50" stroke="#000" stroke-width="0.8"/><line x1="606.50" y1="350.50" x2="612.50" y2="350.50" stroke="#000" stroke-width="0.8"/><line x1="774.50" y1="350.50" x2="768.50" y2="350.50" stroke="#000" stroke-width="0.8"/><line x1="126.50" y1="264.50" x2="132.50" y2="264.50" stroke="#000" stroke-width="0.8"/><line x1="606.50" y1="264.50" x2="600.50" y2="264.50" stroke="#000" stroke-width="0.8"/><line x1="606.50" y1="264.50" x2="612.50" y2="264.50" stroke="#000" stroke-width="0.8"/><line x1="774.50" y1="264.50" x2="768.50" y2="264.50" stroke="#000" stroke-width="0.8"/><line x1="126.50" y1="590.50" x2="129.60" y2="590.50" stroke="#000" stroke-width="0.8"/><line x1="606.50" y1="590.50" x2="603.40" y2="590.50" stroke="#000" stroke-width="0.8"/><line x1="606.50" y1="590.50" x2="609.60" y2="590.50" stroke="#000" stroke-width="0.8"/><line x1="774.50" y1="590.50" x2="771.40" y2="590.50" stroke="#000" stroke-width="0.8"/><line x1="126.50" y1="573.50" x2="129.60" y2="573.50" stroke="#000" stroke-width="0.8"/><line x1="606.50" y1="573.50" x2="603.40" y2="573.50" stroke="#000" stroke-width="0.8"/><line x1="606.50" y1="573.50" x2="609.60" y2="573.50" stroke="#000" stroke-width="0.8"/><line x1="774.50" y1="573.50" x2="771.40" y2="573.50" stroke="#000" stroke-width="0.8"/><line x1="126.50" y1="556.50" x2="129.60" y2="556.50" stroke="#000" stroke-width="0.8"/><line x1="606.50" y1="556.50" x2="603.40" y2="556.50" stroke="#000" stroke-width="0.8"/><line x1="606.50" y1="556.50" x2="609.60" y2="556.50" stroke="#000" stroke-width="0.8"/><line x1="774.50" y1="556.50" x2="771.40" y2="556.50" stroke="#000" stroke-width="0.8"/><line x1="126.50" y1="539.50" x2="129.60" y2="539.50" stroke="#000" stroke-width="0.8"/><line x1="606.50" y1="539.50" x2="603.40" y2="539.50" stroke="#000" stroke-width="0.8"/><line x1="606.50" y1="539.50" x2="609.60" y2="539.50" stroke="#000" stroke-width="0.8"/><line x1="774.50" y1="539.50" x2="771.40" y2="539.50" stroke="#000" stroke-width="0.8"/><line x1="126.50" y1="504.50" x2="129.60" y2="504.50" stroke="#000" stroke-width="0.8"/><line x1="606.50" y1="504.50" x2="603.40" y2="504.50" stroke="#000" stroke-width="0.8"/><line x1="606.50" y1="504.50" x2="609.60" y2="504.50" stroke="#000" stroke-width="0.8"/><line x1="774.50" y1="504.50" x2="771.40" y2="504.50" stroke="#000" stroke-width="0.8"/><line x1="126.50" y1="487.50" x2="129.60" y2="487.50" stroke="#000" stroke-width="0.8"/><line x1="606.50" y1="487.50" x2="603.40" y2="487.50" stroke="#000" stroke-width="0.8"/><line x1="606.50" y1="487.50" x2="609.60" y2="487.50" stroke="#000" stroke-width="0.8"/><line x1="774.50" y1="487.50" x2="771.40" y2="487.50" stroke="#000" stroke-width="0.8"/><line x1="126.50" y1="470.50" x2="129.60" y2="470.50" stroke="#000" stroke-width="0.8"/><line x1="606.50" y1="470.50" x2="603.40" y2="470.50" stroke="#000" stroke-width="0.8"/><line x1="606.50" y1="470.50" x2="609.60" y2="470.50" stroke="#000" stroke-width="0.8"/><line x1="774.50" y1="470.50" x2="771.40" y2="470.50" stroke="#000" stroke-width="0.8"/><line x1="126.50" y1="453.50" x2="129.60" y2="453.50" stroke="#000" stroke-width="0.8"/><line x1="606.50" y1="453.50" x2="603.40" y2="453.50" stroke="#000" stroke-width="0.8"/><line x1="606.50" y1="453.50" x2="609.60" y2="453.50" stroke="#000" stroke-width="0.8"/><line x1="774.50" y1="453.50" x2="771.40" y2="453.50" stroke="#000" stroke-width="0.8"/><line x1="126.50" y1="419.50" x2="129.60" y2="419.50" stroke="#000" stroke-width="0.8"/><line x1="606.50" y1="419.50" x2="603.40" y2="419.50" stroke="#000" stroke-width="0.8"/><line x1="606.50" y1="419.50" x2="609.60" y2="419.50" stroke="#000" stroke-width="0.8"/><line x1="774.50" y1="419.50" x2="771.40" y2="419.50" stroke="#000" stroke-width="0.8"/><line x1="126.50" y1="401.50" x2="129.60" y2="401.50" stroke="#000" stroke-width="0.8"/><line x1="606.50" y1="401.50" x2="603.40" y2="401.50" stroke="#000" stroke-width="0.8"/><line x1="606.50" y1="401.50" x2="609.60" y2="401.50" stroke="#000" stroke-width="0.8"/><line x1="774.50" y1="401.50" x2="771.40" y2="401.50" stroke="#000" stroke-width="0.8"/><line x1="126.50" y1="384.50" x2="129.60" y2="384.50" stroke="#000" stroke-width="0.8"/><line x1="606.50" y1="384.50" x2="603.40" y2="384.50" stroke="#000" stroke-width="0.8"/><line x1="606.50" y1="384.50" x2="609.60" y2="384.50" stroke="#000" stroke-width="0.8"/><line x1="774.50" y1="384.50" x2="771.40" y2="384.50" stroke="#000" stroke-width="0.8"/><line x1="126.50" y1="367.50" x2="129.60" y2="367.50" stroke="#000" stroke-width="0.8"/><line x1="606.50" y1="367.50" x2="603.40" y2="367.50" stroke="#000" stroke-width="0.8"/><line x1="606.50" y1="367.50" x2="609.60" y2="367.50" stroke="#000" stroke-width="0.8"/><line x1="774.50" y1="367.50" x2="771.40" y2="367.50" stroke="#000" stroke-width="0.8"/><line x1="126.50" y1="333.50" x2="129.60" y2="333.50" stroke="#000" stroke-width="0.8"/><line x1="606.50" y1="333.50" x2="603.40" y2="333.50" stroke="#000" stroke-width="0.8"/><line x1="606.50" y1="333.50" x2="609.60" y2="333.50" stroke="#000" stroke-width="0.8"/><line x1="774.50" y1="333.50" x2="771.40" y2="333.50" stroke="#000" stroke-width="0.8"/><line x1="126.50" y1="316.50" x2="129.60" y2="316.50" stroke="#000" stroke-width="0.8"/><line x1="606.50" y1="316.50" x2="603.40" y2="316.50" stroke="#000" stroke-width="0.8"/><line x1="606.50" y1="316.50" x2="609.60" y2="316.50" stroke="#000" stroke-width="0.8"/><line x1="774.50" y1="316.50" x2="771.40" y2="316.50" stroke="#000" stroke-width="0.8"/><line x1="126.50" y1="298.50" x2="129.60" y2="298.50" stroke="#000" stroke-width="0.8"/><line x1="606.50" y1="298.50" x2="603.40" y2="298.50" stroke="#000" stroke-width="0.8"/><line x1="606.50" y1="298.50" x2="609.60" y2="298.50" stroke="#000" stroke-width="0.8"/><line x1="774.50" y1="298.50" x2="771.40" y2="298.50" stroke="#000" stroke-width="0.8"/><line x1="126.50" y1="281.50" x2="129.60" y2="281.50" stroke="#000" stroke-width="0.8"/><line x1="606.50" y1="281.50" x2="603.40" y2="281.50" stroke="#000" stroke-width="0.8"/><line x1="606.50" y1="281.50" x2="609.60" y2="281.50" stroke="#000" stroke-width="0.8"/><line x1="774.50" y1="281.50" x2="771.40" y2="281.50" stroke="#000" stroke-width="0.8"/><line x1="126.50" y1="247.50" x2="129.60" y2="247.50" stroke="#000" stroke-width="0.8"/><line x1="606.50" y1="247.50" x2="603.40" y2="247.50" stroke="#000" stroke-width="0.8"/><line x1="606.50" y1="247.50" x2="609.60" y2="247.50" stroke="#000" stroke-width="0.8"/><line x1="774.50" y1="247.50" x2="771.40" y2="247.50" stroke="#000" stroke-width="0.8"/><line x1="126.50" y1="230.50" x2="129.60" y2="230.50" stroke="#000" stroke-width="0.8"/><line x1="606.50" y1="230.50" x2="603.40" y2="230.50" stroke="#000" stroke-width="0.8"/><line x1="606.50" y1="230.50" x2="609.60" y2="230.50" stroke="#000" stroke-width="0.8"/><line x1="774.50" y1="230.50" x2="771.40" y2="230.50" stroke="#000" stroke-width="0.8"/><line x1="126.50" y1="213.50" x2="129.60" y2="213.50" stroke="#000" stroke-width="0.8"/><line x1="606.50" y1="213.50" x2="603.40" y2="213.50" stroke="#000" stroke-width="0.8"/><line x1="606.50" y1="213.50" x2="609.60" y2="213.50" stroke="#000" stroke-width="0.8"/><line x1="774.50" y1="213.50" x2="771.40" y2="213.50" stroke="#000" stroke-width="0.8"/><line x1="126.50" y1="195.50" x2="129.60" y2="195.50" stroke="#000" stroke-width="0.8"/><line x1="606.50" y1="195.50" x2="603.40" y2="195.50" stroke="#000" stroke-width="0.8"/><line x1="606.50" y1="195.50" x2="609.60" y2="195.50" stroke="#000" stroke-width="0.8"/><line x1="774.50" y1="195.50" x2="771.40" y2="195.50" stroke="#000" stroke-width="0.8"/><line x1="126.50" y1="168.50" x2="129.60" y2="168.50" stroke="#000" stroke-width="0.8"/><line x1="606.50" y1="168.50" x2="603.40" y2="168.50" stroke="#000" stroke-width="0.8"/><line x1="623.50" y1="610.50" x2="623.50" y2="607.40" stroke="#000" stroke-width="0.8"/><line x1="623.50" y1="183.50" x2="623.50" y2="186.60" stroke="#000" stroke-width="0.8"/><line x1="126.50" y1="153.50" x2="132.50" y2="153.50" stroke="#000" stroke-width="0.8"/><line x1="606.50" y1="153.50" x2="600.50" y2="153.50" stroke="#000" stroke-width="0.8"/><line x1="640.50" y1="610.50" x2="640.50" y2="604.50" stroke="#000" stroke-width="0.8"/><line x1="640.50" y1="183.50" x2="640.50" y2="189.50" stroke="#000" stroke-width="0.8"/><line x1="126.50" y1="139.50" x2="129.60" y2="139.50" stroke="#000" stroke-width="0.8"/><line x1="606.50" y1="139.50" x2="603.40" y2="139.50" stroke="#000" stroke-width="0.8"/><line x1="657.50" y1="610.50" x2="657.50" y2="607.40" stroke="#000" stroke-width="0.8"/><line x1="657.50" y1="183.50" x2="657.50" y2="186.60" stroke="#000" stroke-width="0.8"/><line x1="126.50" y1="124.50" x2="132.50" y2="124.50" stroke="#000" stroke-width="0.8"/><line x1="606.50" y1="124.50" x2="600.50" y2="124.50" stroke="#000" stroke-width="0.8"/><line x1="673.50" y1="610.50" x2="673.50" y2="604.50" stroke="#000" stroke-width="0.8"/><line x1="673.50" y1="183.50" x2="673.50" y2="189.50" stroke="#000" stroke-width="0.8"/><line x1="126.50" y1="109.50" x2="129.60" y2="109.50" stroke="#000" stroke-width="0.8"/><line x1="606.50" y1="109.50" x2="603.40" y2="109.50" stroke="#000" stroke-width="0.8"/><line x1="690.50" y1="610.50" x2="690.50" y2="607.40" stroke="#000" stroke-width="0.8"/><line x1="690.50" y1="183.50" x2="690.50" y2="186.60" stroke="#000" stroke-width="0.8"/><line x1="126.50" y1="94.50" x2="132.50" y2="94.50" stroke="#000" stroke-width="0.8"/><line x1="606.50" y1="94.50" x2="600.50" y2="94.50" stroke="#000" stroke-width="0.8"/><line x1="707.50" y1="610.50" x2="707.50" y2="604.50" stroke="#000" stroke-width="0.8"/><line x1="707.50" y1="183.50" x2="707.50" y2="189.50" stroke="#000" stroke-width="0.8"/><line x1="126.50" y1="79.50" x2="129.60" y2="79.50" stroke="#000" stroke-width="0.8"/><line x1="606.50" y1="79.50" x2="603.40" y2="79.50" stroke="#000" stroke-width="0.8"/><line x1="724.50" y1="610.50" x2="724.50" y2="607.40" stroke="#000" stroke-width="0.8"/><line x1="724.50" y1="183.50" x2="724.50" y2="186.60" stroke="#000" stroke-width="0.8"/><line x1="126.50" y1="64.50" x2="132.50" y2="64.50" stroke="#000" stroke-width="0.8"/><line x1="606.50" y1="64.50" x2="600.50" y2="64.50" stroke="#000" stroke-width="0.8"/><line x1="740.50" y1="610.50" x2="740.50" y2="604.50" stroke="#000" stroke-width="0.8"/><line x1="740.50" y1="183.50" x2="740.50" y2="189.50" stroke="#000" stroke-width="0.8"/><line x1="126.50" y1="49.50" x2="129.60" y2="49.50" stroke="#000" stroke-width="0.8"/><line x1="606.50" y1="49.50" x2="603.40" y2="49.50" stroke="#000" stroke-width="0.8"/><line x1="757.50" y1="610.50" x2="757.50" y2="607.40" stroke="#000" stroke-width="0.8"/><line x1="757.50" y1="183.50" x2="757.50" y2="186.60" stroke="#000" stroke-width="0.8"/></g>
<rect x="126.5" y="34.5" width="480.0" height="149.0" fill="none" stroke="#000" stroke-width="1.4"/>
<rect x="126.5" y="183.5" width="480.0" height="427.0" fill="none" stroke="#000" stroke-width="1.4"/>
<rect x="606.5" y="183.5" width="168.0" height="427.0" fill="none" stroke="#000" stroke-width="1.4"/>
<rect x="126.5" y="710.55" width="480.0" height="20.700000000000045" fill="url(#cg)" stroke="#000" stroke-width="1.1"/>
<g><line x1="147.50" y1="731.25" x2="147.50" y2="725.25" stroke="#000" stroke-width="0.8"/><line x1="202.50" y1="731.25" x2="202.50" y2="725.25" stroke="#000" stroke-width="0.8"/><line x1="256.50" y1="731.25" x2="256.50" y2="725.25" stroke="#000" stroke-width="0.8"/><line x1="310.50" y1="731.25" x2="310.50" y2="725.25" stroke="#000" stroke-width="0.8"/><line x1="365.50" y1="731.25" x2="365.50" y2="725.25" stroke="#000" stroke-width="0.8"/><line x1="419.50" y1="731.25" x2="419.50" y2="725.25" stroke="#000" stroke-width="0.8"/><line x1="474.50" y1="731.25" x2="474.50" y2="725.25" stroke="#000" stroke-width="0.8"/><line x1="528.50" y1="731.25" x2="528.50" y2="725.25" stroke="#000" stroke-width="0.8"/><line x1="582.50" y1="731.25" x2="582.50" y2="725.25" stroke="#000" stroke-width="0.8"/></g>
<g><text x="93.45" y="632.90" font-size="25" textLength="63.43" lengthAdjust="spacingAndGlyphs" style="">1100.0</text>
<text x="189.70" y="632.90" font-size="25" textLength="62.86" lengthAdjust="spacingAndGlyphs" style="">1200.0</text>
<text x="286.59" y="632.90" font-size="25" textLength="63.17" lengthAdjust="spacingAndGlyphs" style="">1300.0</text>
<text x="382.29" y="632.90" font-size="25" textLength="63.17" lengthAdjust="spacingAndGlyphs" style="">1400.0</text>
<text x="478.49" y="632.90" font-size="25" textLength="63.17" lengthAdjust="spacingAndGlyphs" style="">1500.0</text>
<text x="90.84" y="613.40" font-size="25" textLength="28.62" lengthAdjust="spacingAndGlyphs" style="">0.0</text>
<text x="66.72" y="527.60" font-size="25" textLength="50.93" lengthAdjust="spacingAndGlyphs" style="">100.0</text>
<text x="67.68" y="441.60" font-size="25" textLength="51.07" lengthAdjust="spacingAndGlyphs" style="">200.0</text>
<text x="68.42" y="355.60" font-size="25" textLength="50.92" lengthAdjust="spacingAndGlyphs" style="">300.0</text>
<text x="68.75" y="269.70" font-size="25" textLength="50.39" lengthAdjust="spacingAndGlyphs" style="">400.0</text>
<text x="108.68" y="189.10" font-size="25" textLength="12.24" lengthAdjust="spacingAndGlyphs" style="">0</text>
<text x="107.55" y="159.30" font-size="25" textLength="12.75" lengthAdjust="spacingAndGlyphs" style="">2</text>
<text x="108.52" y="129.50" font-size="25" textLength="12.04" lengthAdjust="spacingAndGlyphs" style="">4</text>
<text x="108.70" y="99.70" font-size="25" textLength="11.81" lengthAdjust="spacingAndGlyphs" style="">6</text>
<text x="108.81" y="69.90" font-size="25" textLength="11.88" lengthAdjust="spacingAndGlyphs" style="">8</text>
<text x="95.54" y="40.10" font-size="25" textLength="23.54" lengthAdjust="spacingAndGlyphs" style="">10</text>
<text x="599.50" y="632.60" font-size="25" textLength="12.00" lengthAdjust="spacingAndGlyphs" style="">0</text>
<text x="632.17" y="632.60" font-size="25" textLength="13.62" lengthAdjust="spacingAndGlyphs" style="">2</text>
<text x="666.63" y="632.60" font-size="25" textLength="11.83" lengthAdjust="spacingAndGlyphs" style="">4</text>
<text x="700.25" y="632.60" font-size="25" textLength="12.40" lengthAdjust="spacingAndGlyphs" style="">6</text>
<text x="734.13" y="632.60" font-size="25" textLength="12.94" lengthAdjust="spacingAndGlyphs" style="">8</text>
<text x="760.66" y="632.60" font-size="25" textLength="22.17" lengthAdjust="spacingAndGlyphs" style="">10</text>
<text x="121.76" y="755.90" font-size="25" textLength="48.59" lengthAdjust="spacingAndGlyphs" style="">−1.2</text>
<text x="176.19" y="755.90" font-size="25" textLength="47.57" lengthAdjust="spacingAndGlyphs" style="">−0.8</text>
<text x="230.90" y="755.90" font-size="25" textLength="47.27" lengthAdjust="spacingAndGlyphs" style="">−0.4</text>
<text x="295.71" y="753.60" font-size="25" textLength="29.57" lengthAdjust="spacingAndGlyphs" style="">0.0</text>
<text x="349.50" y="753.60" font-size="25" textLength="30.06" lengthAdjust="spacingAndGlyphs" style="">0.4</text>
<text x="403.49" y="753.60" font-size="25" textLength="30.32" lengthAdjust="spacingAndGlyphs" style="">0.8</text>
<text x="455.80" y="753.60" font-size="25" textLength="31.38" lengthAdjust="spacingAndGlyphs" style="">1.2</text>
<text x="510.44" y="753.60" font-size="25" textLength="29.47" lengthAdjust="spacingAndGlyphs" style="">1.6</text>
<text x="566.93" y="753.60" font-size="25" textLength="29.76" lengthAdjust="spacingAndGlyphs" style="">2.0</text>
<text x="335.59" y="670.00" font-size="25.8" textLength="59.96" lengthAdjust="spacingAndGlyphs" style="">X[pix]</text>
<text x="349.68" y="786.80" font-size="25.8" textLength="33.36" lengthAdjust="spacingAndGlyphs" style="">V-I</text>
<text x="680.41" y="666.00" font-size="25.8" textLength="18.62" lengthAdjust="spacingAndGlyphs" style="font-style:italic;">N</text>
<text transform="translate(48.70,426.80) rotate(-90)" x="-0.28" y="0" font-size="25.8" textLength="59.83" lengthAdjust="spacingAndGlyphs" style="">Y[pix]</text>
<text transform="translate(82.10,117.60) rotate(-90)" x="0.21" y="0" font-size="25.8" textLength="18.53" lengthAdjust="spacingAndGlyphs" style="font-style:italic;">N</text></g>
</svg></body></html>
